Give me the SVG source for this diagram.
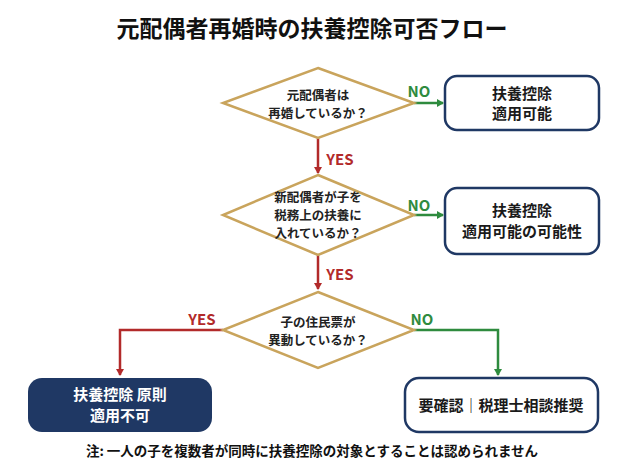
<svg xmlns="http://www.w3.org/2000/svg" width="624" height="467" viewBox="0 0 624 467">
<defs>
<style>
text{font-family:"Noto Sans CJK JP","Noto Sans",sans-serif;font-weight:bold;text-anchor:middle}
.d{fill:#fff;stroke:#c9a45c;stroke-width:2.5}
.b{fill:#fff;stroke:#1f3864;stroke-width:2.5}
.t{font-size:12.5px;fill:#222}
.bt{font-size:15px;fill:#1a1a1a}
.y{stroke:#b22a2a;stroke-width:2.5;fill:none}
.n{stroke:#2e8b3e;stroke-width:2.5;fill:none}
.yl{fill:#b22a2a;font-size:15px}
.nl{fill:#2e8b3e;font-size:15px}
</style>
<marker id="ar" markerWidth="8" markerHeight="8" refX="6" refY="4" orient="auto" markerUnits="userSpaceOnUse"><path d="M0,0L7,4L0,8Z" fill="#b22a2a"/></marker>
<marker id="ag" markerWidth="8" markerHeight="8" refX="6" refY="4" orient="auto" markerUnits="userSpaceOnUse"><path d="M0,0L7,4L0,8Z" fill="#2e8b3e"/></marker>
</defs>
<rect width="624" height="467" fill="#fff"/>
<text x="312" y="37" style="font-size:23px;fill:#111">元配偶者再婚時の扶養控除可否フロー</text>
<g id="connectors">
<path class="n" d="M414,103H443" marker-end="url(#ag)"/>
<path class="y" d="M318,138V173" marker-end="url(#ar)"/>
<path class="n" d="M414,215H443" marker-end="url(#ag)"/>
<path class="y" d="M318,255V289" marker-end="url(#ar)"/>
<path class="y" d="M223,330H120V375" marker-end="url(#ar)"/>
<path class="n" d="M414,330H498V375" marker-end="url(#ag)"/>
<text class="nl" x="419" y="97">NO</text>
<text class="yl" x="340" y="165">YES</text>
<text class="nl" x="419" y="211">NO</text>
<text class="yl" x="340" y="280">YES</text>
<text class="yl" x="202" y="325">YES</text>
<text class="nl" x="422" y="325">NO</text>
</g>
<g id="q1"><path class="d" d="M318,68L414,103L318,138L223,103Z"/><text class="t" x="318" y="100">元配偶者は</text><text class="t" x="318" y="118">再婚しているか？</text></g>
<g id="q2"><path class="d" d="M318,175L414,215L318,255L223,215Z"/><text class="t" x="318" y="202">新配偶者が子を</text><text class="t" x="318" y="220">税務上の扶養に</text><text class="t" x="318" y="238">入れているか？</text></g>
<g id="q3"><path class="d" d="M318,292L414,330L318,368L223,330Z"/><text class="t" x="318" y="327">子の住民票が</text><text class="t" x="318" y="345">異動しているか？</text></g>
<g id="r1"><rect class="b" x="445" y="76" width="154" height="54" rx="12"/><text class="bt" x="522" y="99">扶養控除</text><text class="bt" x="522" y="119">適用可能</text></g>
<g id="r2"><rect class="b" x="445" y="188" width="154" height="66" rx="12"/><text class="bt" x="522" y="216">扶養控除</text><text class="bt" x="522" y="237">適用可能の可能性</text></g>
<g id="r3"><rect x="28" y="378" width="184" height="54" rx="14" fill="#1f3864"/><text class="bt" x="120" y="400" style="fill:#fff">扶養控除 原則</text><text class="bt" x="120" y="421" style="fill:#fff">適用不可</text></g>
<g id="r4"><rect class="b" x="405" y="378" width="193" height="54" rx="14"/><text class="bt" x="501" y="411">要確認｜税理士相談推奨</text></g>
<text x="312" y="456" style="font-size:13.5px;fill:#111">注: 一人の子を複数者が同時に扶養控除の対象とすることは認められません</text>
</svg>
